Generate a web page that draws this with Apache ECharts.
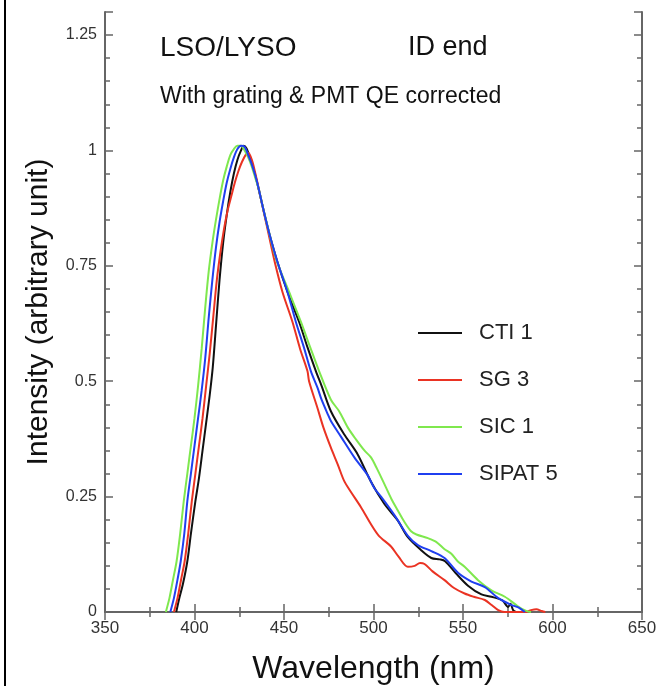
<!DOCTYPE html>
<html lang="en">
<head>
    <meta charset="UTF-8">
    <title>LSO/LYSO emission</title>
    <script src="https://cdn.jsdelivr.net/npm/echarts@6/dist/echarts.min.js"></script>
    <style>
        html, body { margin: 0; padding: 0; background: #fff; }
        #chart { width: 656px; height: 686px; }
    </style>
</head>
<body>
<div id="chart"></div>
<script>
    // 数据 [wavelength nm, intensity]
    var ctiData = [[389.8,0],[391.5,0.03],[393.5,0.06],[396,0.11],[398,0.17],[400.5,0.24],[402.5,0.29],[404.5,0.35],[406.5,0.41],[408.5,0.47],[410.2,0.53],[412,0.62],[414,0.72],[416,0.8],[418,0.86],[420,0.91],[422,0.95],[424,0.98],[426,1.0],[427.5,1.01],[429,1.005],[431,0.985],[433,0.96],[435,0.93],[438,0.88],[441.6,0.823],[446.3,0.759],[451.9,0.694],[458.4,0.629],[463,0.575],[467.8,0.522],[471,0.49],[476.2,0.435],[483.6,0.385],[491.1,0.342],[498.6,0.282],[506.1,0.234],[513.6,0.198],[519.2,0.162],[526.6,0.134],[532.3,0.117],[537,0.114],[540,0.11],[546,0.084],[552.8,0.057],[560.3,0.038],[565.9,0.033],[572,0.025],[575.2,0.011],[576.5,0.018],[578,0.004],[579.5,0]];
    var sgData = [[388.5,0],[390.5,0.03],[392.5,0.07],[394.5,0.11],[396.5,0.17],[398.5,0.24],[400.5,0.3],[402.5,0.36],[404.5,0.42],[406.5,0.49],[408.5,0.56],[410.5,0.64],[412.5,0.72],[414.5,0.78],[416.5,0.83],[418.5,0.87],[420.5,0.9],[422.5,0.93],[424.5,0.955],[426.5,0.975],[428.5,0.99],[430,0.995],[432,0.98],[434,0.95],[436,0.915],[438.5,0.87],[441.6,0.815],[444.8,0.759],[449.1,0.694],[454.7,0.629],[459,0.57],[463.1,0.522],[464,0.5],[468.7,0.442],[472,0.4],[476.2,0.356],[480,0.32],[483.6,0.284],[487.4,0.26],[493,0.227],[498.6,0.19],[503,0.165],[509.8,0.142],[514,0.12],[519.2,0.098],[523,0.1],[526,0.106],[528.5,0.104],[533,0.088],[539.7,0.069],[545,0.052],[550.9,0.04],[556,0.033],[562.2,0.026],[566,0.015],[569.7,0.004],[573,0],[585,0],[588,0.004],[591,0.006],[594,0.002],[596,0]];
    var sicData = [[384,0],[386,0.03],[388,0.07],[390,0.11],[392,0.17],[394,0.24],[396,0.3],[398,0.36],[400,0.42],[402,0.49],[404,0.57],[406,0.66],[408,0.74],[410,0.8],[412,0.85],[414,0.895],[416,0.935],[418,0.965],[420,0.99],[422,1.003],[424,1.01],[426,1.01],[428,1.0],[430,0.985],[432,0.965],[434,0.94],[436,0.915],[438,0.88],[441.6,0.823],[446,0.76],[452.8,0.694],[459.4,0.629],[464.5,0.575],[469.6,0.522],[476.2,0.46],[480.8,0.435],[485.6,0.4],[490,0.375],[494.9,0.35],[498.6,0.335],[502,0.31],[506.1,0.277],[510,0.245],[513.6,0.22],[517.3,0.195],[521,0.175],[524,0.168],[530.4,0.16],[535,0.152],[539.7,0.136],[543.5,0.126],[547,0.11],[550.9,0.098],[558.4,0.069],[565.9,0.047],[573.4,0.033],[580.8,0.012],[585,0.003],[588,0]];
    var sipatData = [[386.5,0],[388.5,0.03],[390.5,0.07],[392.3,0.11],[394.3,0.17],[396,0.24],[398,0.3],[400,0.36],[402,0.42],[404,0.48],[406,0.55],[408,0.64],[410,0.72],[412,0.79],[414,0.845],[416,0.89],[418,0.93],[420,0.96],[422,0.985],[424,1.003],[426,1.01],[428,1.008],[430,0.99],[432,0.97],[434,0.945],[436,0.915],[438,0.88],[441.6,0.823],[446.3,0.759],[451.9,0.694],[456.6,0.629],[461,0.575],[465,0.522],[468.7,0.486],[471,0.46],[474.3,0.43],[476.2,0.414],[481.8,0.38],[489.3,0.335],[496.8,0.296],[500.5,0.268],[504.2,0.25],[511.7,0.21],[519.2,0.165],[524.8,0.145],[532.3,0.132],[539.7,0.117],[547.2,0.085],[554.7,0.066],[562.2,0.054],[569.7,0.03],[577.2,0.015],[580.9,0.01],[584.6,0]];

    var seriesNames = ['CTI 1', 'SG 3', 'SIC 1', 'SIPAT 5'];
    var seriesColors = ['#111111', '#ea3323', '#7fe84e', '#1f3ff0'];
    var seriesData = [ctiData, sgData, sicData, sipatData];

    var font = '"Liberation Sans", Arial, sans-serif';
    var axisColor = '#666';

    var myChart = echarts.init(document.getElementById('chart'));

    function axisBase(showLabel) {
        return {
            axisLine: { show: true, lineStyle: { color: axisColor, width: 2 } },
            axisTick: { show: true, inside: true, length: 8, lineStyle: { color: axisColor, width: 1.5 } },
            minorTick: { show: true, length: 5, lineStyle: { color: axisColor, width: 1.5 } },
            splitLine: { show: false },
            axisLabel: {
                show: showLabel,
                color: '#333',
                fontSize: 16,
                fontFamily: font,
                margin: 8,
                showMaxLabel: true
            }
        };
    }

    var xBottom = axisBase(true);
    Object.assign(xBottom, {
        type: 'value', position: 'bottom', min: 350, max: 650, interval: 50,
        name: 'Wavelength (nm)', nameLocation: 'middle', nameGap: 41,
        nameTextStyle: { fontSize: 32, fontFamily: font, color: '#111' }
    });
    xBottom.minorTick.splitNumber = 2;
    xBottom.axisLabel.fontSize = 17;

    var xTop = axisBase(false);
    Object.assign(xTop, { type: 'value', position: 'top', min: 350, max: 650, interval: 50 });
    xTop.minorTick.splitNumber = 2;

    var yLeft = axisBase(true);
    Object.assign(yLeft, {
        type: 'value', position: 'left', min: 0, max: 1.3, interval: 0.25,
        name: 'Intensity (arbitrary unit)', nameLocation: 'middle', nameGap: 51, nameRotate: 90,
        nameTextStyle: { fontSize: 30, fontFamily: font, color: '#111' }
    });
    yLeft.minorTick.splitNumber = 5;
    yLeft.axisLabel.showMaxLabel = false;

    var yRight = axisBase(false);
    Object.assign(yRight, { type: 'value', position: 'right', min: 0, max: 1.3, interval: 0.25 });
    yRight.minorTick.splitNumber = 5;

    var series = seriesNames.map(function (name, i) {
        return {
            name: name,
            type: 'line',
            xAxisIndex: 0,
            yAxisIndex: 0,
            data: seriesData[i],
            symbol: 'none',
            smooth: 0.3,
            lineStyle: { color: seriesColors[i], width: 2 },
            itemStyle: { color: seriesColors[i] }
        };
    });

    var option = {
        backgroundColor: '#fff',
        animation: false,
        grid: { left: 105, right: 14, top: 12, bottom: 74, outerBoundsMode: 'none' },
        legend: {
            data: seriesNames,
            orient: 'vertical',
            left: 418,
            top: 322,
            padding: 0,
            icon: 'rect',
            itemWidth: 44,
            itemHeight: 2,
            itemGap: 25,
            textStyle: { fontSize: 22, fontFamily: font, color: '#222', padding: [0, 0, 0, 12] }
        },
        xAxis: [xBottom, xTop],
        yAxis: [yLeft, yRight],
        graphic: [
            { type: 'rect', shape: { x: 4, y: 0, width: 2, height: 686 }, style: { fill: '#000' } },
            { type: 'text', x: 160, y: 48, style: { text: 'LSO/LYSO', font: '28px ' + font, fill: '#111', verticalAlign: 'middle' } },
            { type: 'text', x: 408, y: 48, style: { text: 'ID end', font: '27px ' + font, fill: '#111', verticalAlign: 'middle' } },
            { type: 'text', x: 160, y: 97, style: { text: 'With grating & PMT QE corrected', font: '23px ' + font, fill: '#111', verticalAlign: 'middle' } }
        ],
        series: series
    };

    myChart.setOption(option);
</script>
</body>
</html>
